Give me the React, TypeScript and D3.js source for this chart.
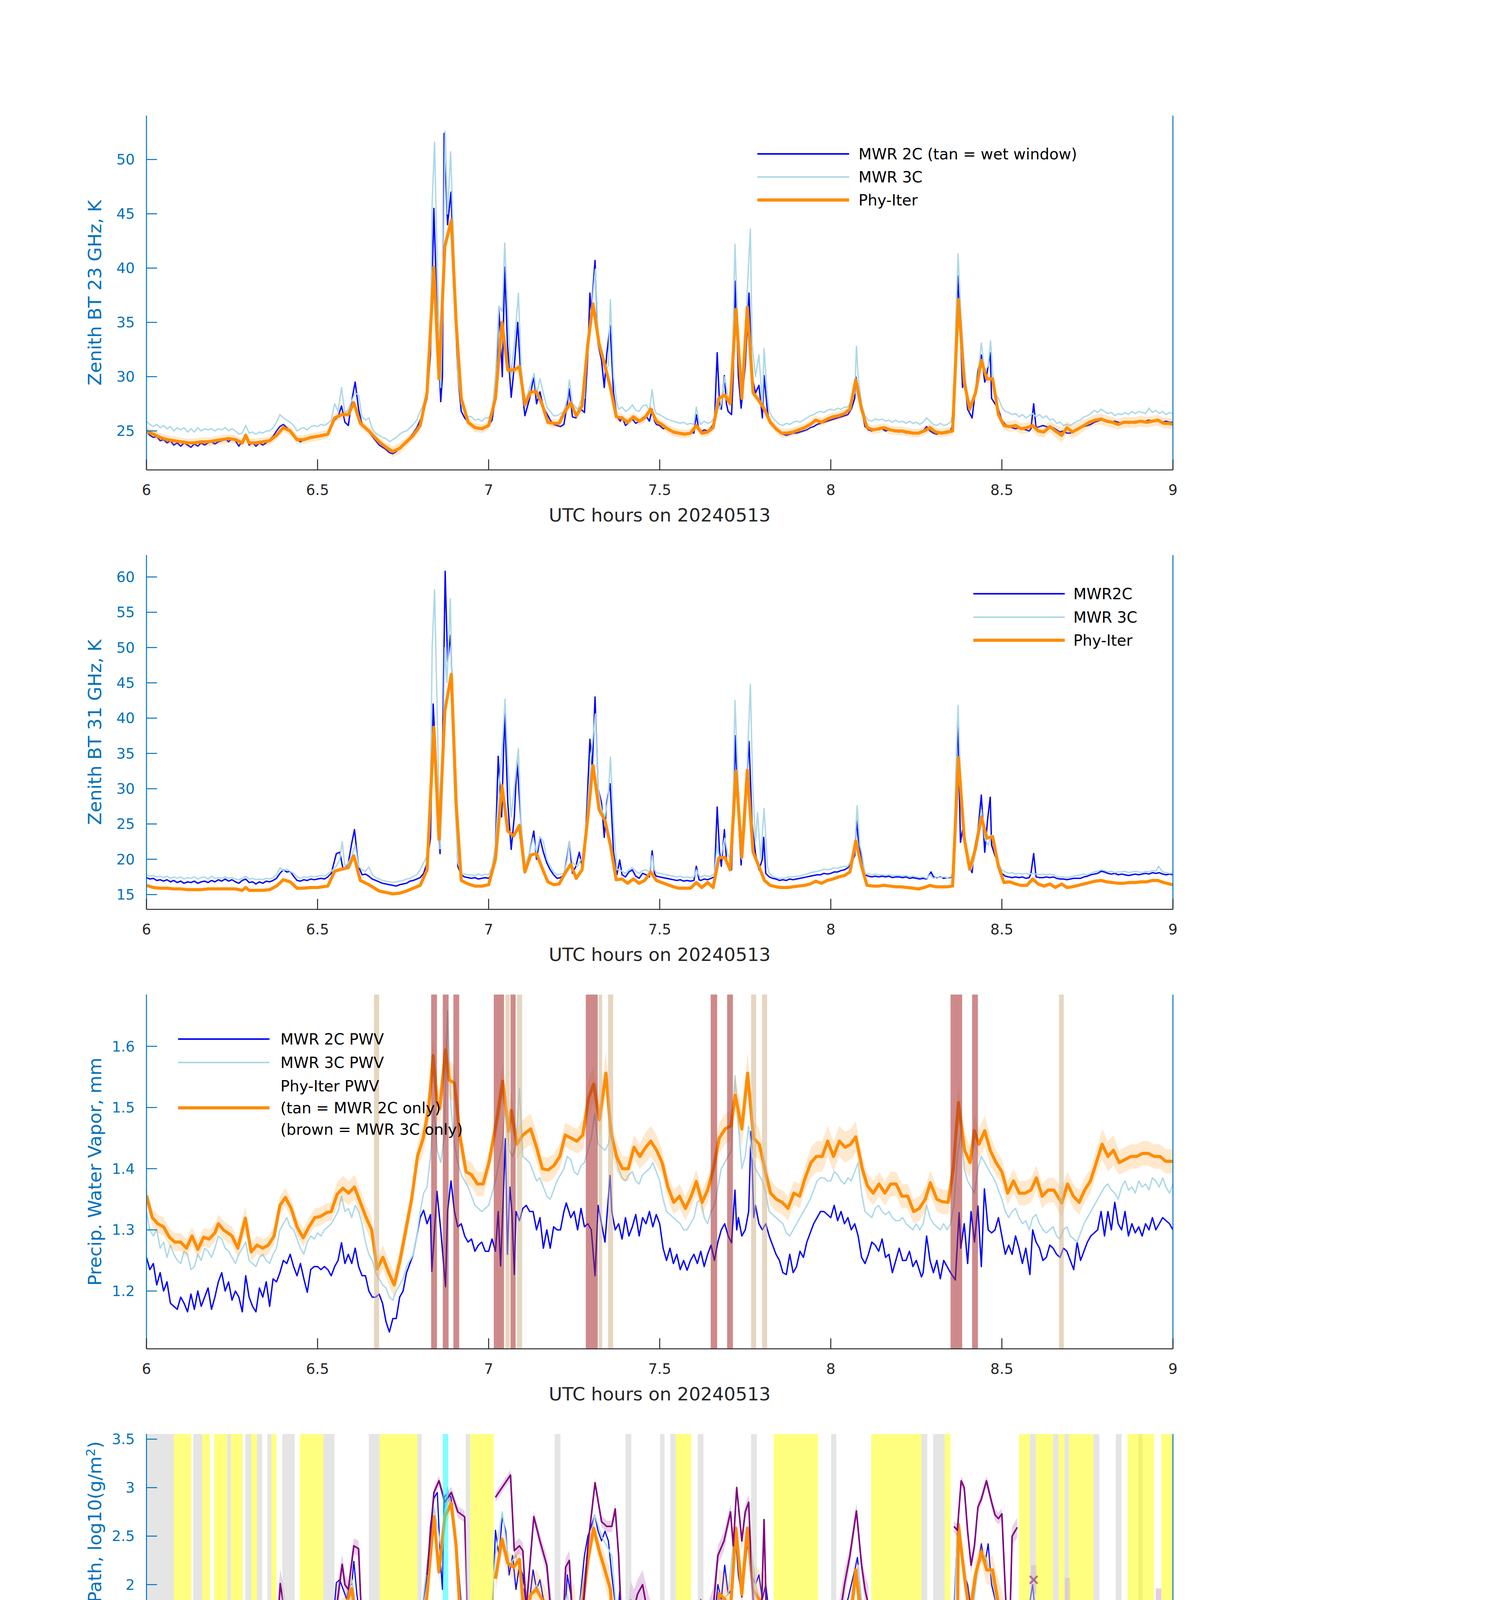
import React from "react"
import * as d3 from "d3"

type Pt = [number, number | null]
type BandPt = [number, number | null, number]

const W = 3825
const H = 6000
const LEFT = 375
const RIGHT = 3003
const PANEL_TOPS = [296, 1421, 2546, 3671, 4796]
const PANEL_H = 907
const TICK = 27

const BLUE = "#0000FF"
const LIGHTBLUE = "#ADD8E6"
const ORANGE = "#FF8C00"
const PURPLE = "#800080"
const AXIS_BLUE = "#0072BD"
const DARK = "#262626"
const FONT = "DejaVu Sans"

const xTicks = [6, 6.5, 7, 7.5, 8, 8.5, 9]

// ---------- panel 1: 23 GHz BT ----------
const bt23Ticks = [25, 30, 35, 40, 45, 50]
const bt23Mwr2c: Pt[] = [[6.00,25.0],[6.01,24.6],[6.02,24.4],[6.03,24.5],[6.04,24.1],[6.05,24.2],[6.06,23.9],[6.07,24.1],[6.08,23.7],[6.09,23.9],[6.10,23.6],[6.11,23.9],[6.12,23.7],[6.13,23.5],[6.14,23.8],[6.15,23.6],[6.16,23.9],[6.17,23.7],[6.18,23.9],[6.19,24.0],[6.20,23.8],[6.21,24.0],[6.22,24.1],[6.23,24.3],[6.24,24.0],[6.25,24.3],[6.26,24.1],[6.27,23.6],[6.28,24.1],[6.29,24.4],[6.30,23.7],[6.31,23.9],[6.32,23.6],[6.33,23.9],[6.34,23.7],[6.35,23.9],[6.36,24.2],[6.37,24.5],[6.38,25.0],[6.39,25.4],[6.40,25.6],[6.41,25.3],[6.42,25.0],[6.43,24.5],[6.44,24.2],[6.45,24.0],[6.46,24.2],[6.47,24.3],[6.48,24.4],[6.49,24.4],[6.50,24.5],[6.51,24.5],[6.52,24.6],[6.53,24.8],[6.54,25.3],[6.55,26.0],[6.56,26.3],[6.57,27.3],[6.58,25.8],[6.59,25.5],[6.60,27.8],[6.61,29.5],[6.62,27.0],[6.63,25.6],[6.64,25.2],[6.65,24.9],[6.66,24.5],[6.67,24.1],[6.68,23.7],[6.69,23.5],[6.70,23.3],[6.71,23.0],[6.72,22.9],[6.73,23.1],[6.74,23.5],[6.75,23.7],[6.76,24.0],[6.77,24.4],[6.78,24.8],[6.79,25.3],[6.80,26.0],[6.81,26.8],[6.82,28.0],[6.83,32.0],[6.84,45.5],[6.85,35.0],[6.86,27.7],[6.865,30.0],[6.87,52.4],[6.88,44.0],[6.89,47.0],[6.90,38.0],[6.91,30.0],[6.92,26.8],[6.93,26.2],[6.94,25.8],[6.95,25.5],[6.96,25.4],[6.97,25.2],[6.98,25.3],[6.99,25.4],[7.00,25.5],[7.01,26.0],[7.02,28.0],[7.03,36.3],[7.04,30.0],[7.047,40.1],[7.055,33.0],[7.066,28.1],[7.075,31.0],[7.085,35.0],[7.095,29.5],[7.106,26.4],[7.12,28.0],[7.132,30.0],[7.14,27.5],[7.15,28.6],[7.16,27.2],[7.17,26.6],[7.18,26.0],[7.19,25.6],[7.20,25.5],[7.21,25.4],[7.22,25.6],[7.23,27.5],[7.235,28.9],[7.245,26.3],[7.255,26.2],[7.27,27.0],[7.28,26.7],[7.29,32.0],[7.296,37.7],[7.30,36.0],[7.311,40.7],[7.32,33.0],[7.33,31.5],[7.338,29.0],[7.345,32.0],[7.355,34.7],[7.365,28.5],[7.375,26.3],[7.385,25.9],[7.39,26.3],[7.40,25.5],[7.41,25.8],[7.42,26.1],[7.43,25.7],[7.44,25.9],[7.45,26.2],[7.46,26.4],[7.47,25.9],[7.478,27.0],[7.485,25.9],[7.49,25.6],[7.50,25.5],[7.51,25.2],[7.52,25.3],[7.53,25.0],[7.54,24.9],[7.55,24.9],[7.56,24.7],[7.57,24.8],[7.58,24.7],[7.59,24.9],[7.60,24.8],[7.607,26.5],[7.615,25.0],[7.62,24.9],[7.63,25.1],[7.64,25.0],[7.65,25.3],[7.66,25.8],[7.668,32.2],[7.675,27.5],[7.68,27.0],[7.689,30.1],[7.695,27.5],[7.70,26.8],[7.71,26.5],[7.715,30.0],[7.721,38.8],[7.73,30.0],[7.738,27.1],[7.75,31.0],[7.761,37.7],[7.77,30.0],[7.78,28.5],[7.79,29.2],[7.80,26.2],[7.805,30.1],[7.815,26.8],[7.82,26.0],[7.83,25.6],[7.84,25.3],[7.85,25.0],[7.86,24.7],[7.87,24.6],[7.88,24.7],[7.89,24.8],[7.90,24.8],[7.91,24.9],[7.92,25.0],[7.93,25.1],[7.94,25.3],[7.95,25.4],[7.96,25.6],[7.97,25.7],[7.98,25.8],[7.99,25.9],[8.00,26.0],[8.01,26.1],[8.02,26.2],[8.03,26.3],[8.04,26.4],[8.05,26.5],[8.06,27.0],[8.07,28.0],[8.073,30.0],[8.08,29.0],[8.09,27.0],[8.10,25.4],[8.11,25.1],[8.12,25.0],[8.13,25.2],[8.14,25.1],[8.15,25.2],[8.16,25.0],[8.17,25.1],[8.18,25.0],[8.19,25.0],[8.20,24.9],[8.21,25.0],[8.22,24.8],[8.23,24.9],[8.24,24.8],[8.25,24.8],[8.26,24.9],[8.27,25.0],[8.28,25.4],[8.29,25.0],[8.30,24.8],[8.31,24.7],[8.32,24.9],[8.33,24.8],[8.34,24.8],[8.35,25.0],[8.36,26.0],[8.365,33.0],[8.371,39.3],[8.38,33.0],[8.385,29.0],[8.39,30.0],[8.40,27.0],[8.413,26.2],[8.42,28.0],[8.43,30.5],[8.44,32.0],[8.45,29.5],[8.455,30.0],[8.466,32.2],[8.47,28.0],[8.48,27.5],[8.49,27.0],[8.50,26.0],[8.51,25.6],[8.52,25.4],[8.53,25.3],[8.54,25.2],[8.55,25.3],[8.56,25.2],[8.57,25.1],[8.58,25.0],[8.585,25.2],[8.593,27.5],[8.60,25.3],[8.61,25.4],[8.62,25.5],[8.63,25.4],[8.64,25.3],[8.65,25.3],[8.66,25.1],[8.67,24.9],[8.68,25.0],[8.69,24.8],[8.70,24.8],[8.71,25.0],[8.72,25.2],[8.73,25.3],[8.74,25.4],[8.75,25.5],[8.76,25.6],[8.77,25.8],[8.78,25.9],[8.79,26.0],[8.80,26.0],[8.81,25.9],[8.82,25.8],[8.83,25.9],[8.84,25.8],[8.85,25.7],[8.86,25.8],[8.87,25.7],[8.88,25.8],[8.89,25.9],[8.90,25.8],[8.91,25.9],[8.92,25.9],[8.93,26.0],[8.94,25.9],[8.95,26.0],[8.96,26.0],[8.97,25.8],[8.98,25.9],[8.99,25.8],[9.00,25.8]]
const bt23Mwr3c: Pt[] = [[6.00,25.9],[6.01,25.6],[6.02,25.4],[6.03,25.6],[6.04,25.3],[6.05,25.5],[6.06,25.2],[6.07,25.4],[6.08,25.0],[6.09,25.3],[6.10,25.1],[6.11,25.3],[6.12,24.9],[6.13,25.2],[6.14,24.9],[6.15,25.3],[6.16,25.0],[6.17,25.2],[6.18,25.1],[6.19,25.2],[6.20,25.0],[6.21,25.2],[6.22,25.1],[6.23,25.3],[6.24,25.0],[6.25,25.2],[6.26,25.0],[6.27,24.7],[6.28,24.8],[6.29,25.5],[6.30,24.8],[6.31,24.9],[6.32,24.7],[6.33,24.9],[6.34,24.8],[6.35,25.0],[6.36,25.0],[6.37,25.3],[6.38,25.8],[6.39,26.5],[6.40,26.2],[6.41,26.0],[6.42,25.8],[6.43,25.5],[6.44,25.0],[6.45,25.2],[6.46,25.3],[6.47,25.1],[6.48,25.4],[6.49,25.5],[6.50,25.4],[6.51,25.6],[6.52,25.5],[6.53,25.7],[6.54,26.0],[6.55,27.5],[6.56,26.8],[6.57,29.0],[6.58,26.6],[6.59,27.0],[6.60,27.8],[6.61,28.5],[6.62,28.3],[6.63,26.3],[6.64,26.0],[6.65,26.2],[6.66,25.2],[6.67,24.8],[6.68,24.6],[6.69,24.4],[6.70,24.3],[6.71,24.0],[6.72,24.2],[6.73,24.4],[6.74,24.7],[6.75,24.9],[6.76,25.0],[6.77,25.3],[6.78,25.6],[6.79,26.0],[6.80,26.8],[6.81,27.5],[6.82,28.5],[6.83,33.0],[6.835,46.0],[6.842,51.6],[6.85,40.0],[6.86,29.0],[6.865,35.0],[6.873,52.6],[6.88,45.0],[6.889,50.7],[6.90,40.0],[6.91,30.0],[6.92,27.5],[6.93,26.8],[6.94,26.3],[6.95,26.3],[6.96,26.0],[6.97,26.1],[6.98,25.9],[6.99,26.2],[7.00,26.2],[7.01,26.8],[7.02,30.0],[7.03,36.5],[7.04,36.0],[7.047,42.3],[7.055,36.5],[7.065,30.0],[7.075,33.0],[7.087,37.7],[7.095,31.0],[7.105,27.5],[7.12,29.0],[7.133,30.3],[7.14,28.3],[7.15,29.8],[7.16,28.5],[7.17,27.2],[7.18,26.8],[7.19,26.4],[7.20,26.4],[7.21,26.6],[7.22,26.8],[7.23,28.0],[7.236,29.7],[7.245,27.5],[7.26,27.0],[7.27,27.8],[7.28,28.0],[7.29,33.0],[7.30,36.0],[7.312,39.9],[7.32,34.0],[7.33,32.0],[7.34,30.5],[7.35,31.0],[7.356,37.1],[7.365,30.0],[7.375,27.5],[7.38,27.0],[7.39,27.2],[7.40,26.8],[7.41,27.0],[7.42,27.4],[7.43,26.9],[7.44,26.8],[7.45,27.3],[7.46,27.4],[7.47,26.9],[7.478,28.8],[7.485,27.0],[7.49,26.6],[7.50,26.5],[7.51,26.3],[7.52,26.1],[7.53,26.0],[7.54,25.9],[7.55,25.8],[7.56,25.7],[7.57,25.8],[7.58,25.6],[7.59,25.7],[7.60,25.6],[7.607,27.2],[7.615,25.9],[7.62,25.6],[7.63,25.9],[7.64,25.7],[7.65,25.8],[7.66,26.3],[7.668,28.0],[7.675,27.0],[7.68,27.5],[7.69,30.0],[7.70,28.0],[7.71,28.5],[7.715,35.0],[7.72,42.2],[7.73,33.0],[7.74,28.0],[7.75,32.0],[7.756,38.0],[7.765,43.6],[7.77,33.0],[7.78,30.0],[7.79,32.0],[7.80,27.5],[7.805,32.6],[7.815,28.0],[7.82,26.8],[7.83,26.2],[7.84,25.9],[7.85,25.6],[7.86,25.5],[7.87,25.7],[7.88,25.6],[7.89,25.8],[7.90,25.9],[7.91,25.8],[7.92,26.0],[7.93,26.2],[7.94,26.4],[7.95,26.5],[7.96,26.7],[7.97,26.8],[7.98,26.7],[7.99,26.9],[8.00,27.0],[8.01,26.9],[8.02,27.1],[8.03,27.0],[8.04,27.2],[8.05,27.2],[8.06,27.8],[8.07,28.5],[8.075,32.8],[8.08,30.0],[8.09,27.5],[8.10,26.4],[8.11,26.0],[8.12,25.9],[8.13,26.1],[8.14,26.0],[8.15,26.1],[8.16,25.9],[8.17,26.0],[8.18,25.8],[8.19,26.0],[8.20,25.8],[8.21,25.9],[8.22,25.7],[8.23,25.9],[8.24,25.7],[8.25,25.8],[8.26,25.6],[8.27,25.8],[8.28,26.2],[8.29,25.9],[8.30,25.6],[8.31,25.5],[8.32,25.7],[8.33,25.5],[8.34,25.6],[8.35,25.8],[8.36,27.0],[8.365,35.0],[8.372,41.3],[8.38,36.0],[8.39,31.0],[8.40,28.0],[8.41,27.5],[8.42,28.5],[8.43,30.0],[8.44,33.1],[8.45,30.5],[8.46,31.0],[8.467,33.3],[8.475,29.5],[8.48,28.5],[8.49,28.0],[8.50,27.2],[8.51,26.8],[8.52,26.7],[8.53,26.5],[8.54,26.6],[8.55,26.3],[8.56,26.5],[8.57,26.2],[8.58,26.4],[8.59,26.6],[8.60,26.3],[8.61,26.5],[8.62,26.2],[8.63,26.4],[8.64,26.0],[8.65,26.1],[8.66,25.7],[8.67,25.8],[8.68,25.5],[8.69,25.6],[8.70,25.5],[8.71,25.7],[8.72,25.9],[8.73,26.0],[8.74,26.3],[8.75,26.4],[8.76,26.6],[8.77,26.9],[8.78,26.7],[8.79,27.0],[8.80,26.8],[8.81,26.6],[8.82,26.7],[8.83,26.4],[8.84,26.6],[8.85,26.5],[8.86,26.7],[8.87,26.5],[8.88,26.8],[8.89,26.6],[8.90,26.8],[8.91,26.7],[8.92,26.6],[8.93,27.1],[8.94,26.7],[8.95,26.9],[8.96,26.6],[8.97,26.8],[8.98,26.5],[8.99,26.7],[9.00,26.6]]
const bt23Phy: BandPt[] = [[6.00,25.0,0.4],[6.02,24.7,0.4],[6.04,24.4,0.4],[6.06,24.2,0.4],[6.08,24.1,0.4],[6.10,24.0,0.4],[6.12,23.9,0.4],[6.14,23.9,0.4],[6.16,24.0,0.4],[6.18,24.0,0.4],[6.20,24.1,0.4],[6.22,24.2,0.4],[6.24,24.3,0.4],[6.26,24.2,0.4],[6.28,23.9,0.4],[6.29,24.6,0.4],[6.30,23.9,0.4],[6.32,23.9,0.4],[6.34,24.0,0.4],[6.36,24.1,0.4],[6.38,24.6,0.4],[6.40,25.3,0.4],[6.42,25.0,0.4],[6.44,24.2,0.4],[6.46,24.2,0.4],[6.48,24.4,0.4],[6.50,24.5,0.4],[6.53,24.7,0.4],[6.55,26.2,0.4],[6.57,26.5,0.4],[6.59,26.5,0.4],[6.606,27.6,0.4],[6.625,25.7,0.4],[6.65,25.0,0.4],[6.68,24.0,0.4],[6.70,23.5,0.4],[6.72,23.1,0.5],[6.74,23.4,0.5],[6.76,24.0,0.4],[6.78,24.6,0.4],[6.80,25.5,0.4],[6.82,28.5,0.5],[6.84,40.1,0.6],[6.855,29.8,0.5],[6.872,42.0,0.6],[6.891,44.4,0.6],[6.905,35.0,0.5],[6.92,28.0,0.4],[6.94,25.8,0.4],[6.96,25.3,0.4],[6.98,25.2,0.4],[7.00,25.5,0.4],[7.02,28.0,0.4],[7.039,35.0,0.5],[7.056,30.6,0.4],[7.073,30.6,0.4],[7.09,30.9,0.4],[7.106,27.4,0.4],[7.123,28.6,0.4],[7.14,28.6,0.4],[7.156,27.5,0.4],[7.173,25.8,0.4],[7.19,25.7,0.4],[7.206,25.7,0.4],[7.223,26.8,0.4],[7.24,27.6,0.4],[7.256,26.4,0.4],[7.273,27.3,0.4],[7.29,33.0,0.5],[7.305,36.7,0.5],[7.323,33.0,0.4],[7.34,31.0,0.4],[7.356,29.0,0.4],[7.373,26.3,0.4],[7.39,26.2,0.4],[7.406,25.8,0.4],[7.423,26.3,0.4],[7.44,25.9,0.4],[7.456,26.2,0.4],[7.474,27.0,0.4],[7.49,25.9,0.4],[7.506,25.6,0.4],[7.523,25.2,0.4],[7.54,24.9,0.4],[7.556,24.8,0.4],[7.573,24.7,0.4],[7.59,24.8,0.4],[7.607,25.5,0.4],[7.623,24.8,0.4],[7.64,24.9,0.4],[7.656,25.3,0.4],[7.673,28.0,0.4],[7.69,28.3,0.4],[7.706,27.5,0.4],[7.723,36.2,0.5],[7.74,28.0,0.4],[7.756,36.4,0.5],[7.773,28.5,0.4],[7.79,27.8,0.4],[7.806,27.0,0.4],[7.823,25.8,0.4],[7.84,25.2,0.4],[7.856,24.8,0.4],[7.873,24.8,0.4],[7.89,24.9,0.4],[7.906,25.1,0.4],[7.923,25.3,0.4],[7.94,25.6,0.4],[7.956,26.0,0.4],[7.973,25.8,0.4],[7.99,26.1,0.4],[8.006,26.3,0.4],[8.023,26.4,0.4],[8.04,26.6,0.4],[8.056,27.0,0.4],[8.073,29.7,0.4],[8.09,27.0,0.4],[8.106,25.3,0.4],[8.123,25.1,0.4],[8.14,25.2,0.4],[8.156,25.3,0.4],[8.173,25.1,0.4],[8.19,25.0,0.4],[8.206,25.0,0.4],[8.223,24.9,0.4],[8.24,24.8,0.4],[8.256,24.8,0.4],[8.273,25.0,0.4],[8.29,25.3,0.4],[8.306,24.9,0.4],[8.323,24.8,0.4],[8.34,24.9,0.4],[8.356,25.0,0.4],[8.373,37.1,0.5],[8.39,29.5,0.4],[8.406,27.0,0.4],[8.423,28.5,0.4],[8.44,31.5,0.5],[8.456,29.8,0.4],[8.473,29.8,0.4],[8.49,26.5,0.4],[8.506,25.5,0.4],[8.523,25.4,0.5],[8.54,25.5,0.5],[8.556,25.2,0.5],[8.573,25.3,0.5],[8.59,25.5,0.5],[8.606,25.0,0.5],[8.623,24.9,0.5],[8.64,25.4,0.5],[8.656,25.0,0.6],[8.675,24.6,0.7],[8.69,25.3,0.6],[8.706,24.9,0.6],[8.723,25.2,0.6],[8.74,25.5,0.5],[8.756,25.8,0.5],[8.773,26.0,0.5],[8.79,26.1,0.5],[8.806,25.9,0.5],[8.823,25.8,0.5],[8.84,25.6,0.5],[8.856,25.8,0.5],[8.873,25.8,0.5],[8.89,25.8,0.5],[8.906,25.9,0.5],[8.923,25.8,0.5],[8.94,25.9,0.5],[8.956,26.0,0.5],[8.973,25.7,0.5],[8.99,25.7,0.5],[9.00,25.6,0.5]]

// ---------- panel 2: 31 GHz BT ----------
const bt31Ticks = [15, 20, 25, 30, 35, 40, 45, 50, 55, 60]
const bt31Mwr2c: Pt[] = [[6.00,17.4],[6.01,17.2],[6.02,17.3],[6.03,17.0],[6.04,17.1],[6.05,16.9],[6.06,17.1],[6.07,16.8],[6.08,17.0],[6.09,16.7],[6.10,16.9],[6.11,16.6],[6.12,16.8],[6.13,16.7],[6.14,16.9],[6.15,16.6],[6.16,16.8],[6.17,16.9],[6.18,16.7],[6.19,17.0],[6.20,16.8],[6.21,17.1],[6.22,16.9],[6.23,17.2],[6.24,16.9],[6.25,17.1],[6.26,16.8],[6.27,16.6],[6.28,17.0],[6.29,17.2],[6.30,16.7],[6.31,16.8],[6.32,16.5],[6.33,16.8],[6.34,16.6],[6.35,16.9],[6.36,16.8],[6.37,17.0],[6.38,17.3],[6.39,18.0],[6.40,18.5],[6.41,18.2],[6.42,18.3],[6.43,17.6],[6.44,17.0],[6.45,16.9],[6.46,17.1],[6.47,17.0],[6.48,17.2],[6.49,17.1],[6.50,17.2],[6.51,17.3],[6.52,17.2],[6.53,17.5],[6.54,18.0],[6.555,20.8],[6.565,21.0],[6.575,18.5],[6.59,19.5],[6.60,22.3],[6.608,24.2],[6.615,21.0],[6.62,19.0],[6.63,17.8],[6.64,17.9],[6.65,17.6],[6.66,17.2],[6.67,17.0],[6.68,16.8],[6.69,16.6],[6.70,16.5],[6.71,16.4],[6.72,16.3],[6.73,16.2],[6.74,16.4],[6.75,16.5],[6.76,16.6],[6.77,16.9],[6.78,17.0],[6.79,17.2],[6.80,17.4],[6.81,18.0],[6.82,19.5],[6.83,23.0],[6.838,42.0],[6.85,30.0],[6.858,20.8],[6.865,35.0],[6.873,60.8],[6.88,48.0],[6.889,51.8],[6.90,35.0],[6.91,19.0],[6.92,17.8],[6.93,17.5],[6.94,17.4],[6.95,17.3],[6.96,17.4],[6.97,17.2],[6.98,17.3],[6.99,17.4],[7.00,17.3],[7.01,18.0],[7.02,22.0],[7.028,34.6],[7.038,26.0],[7.047,40.8],[7.056,28.0],[7.066,21.4],[7.075,26.0],[7.083,33.9],[7.095,25.0],[7.106,18.3],[7.12,21.0],[7.132,24.0],[7.14,20.0],[7.15,23.0],[7.16,21.0],[7.17,19.5],[7.18,18.5],[7.19,17.8],[7.20,17.3],[7.21,17.4],[7.22,17.8],[7.23,20.5],[7.236,22.5],[7.245,18.0],[7.255,19.0],[7.265,21.0],[7.275,18.5],[7.285,25.0],[7.296,37.0],[7.303,33.0],[7.311,43.0],[7.32,30.0],[7.33,28.0],[7.338,23.1],[7.345,28.0],[7.355,30.7],[7.365,21.0],[7.375,17.8],[7.383,19.9],[7.39,17.8],[7.40,17.5],[7.41,18.2],[7.42,18.5],[7.43,17.6],[7.44,17.3],[7.45,18.0],[7.46,17.8],[7.47,17.5],[7.478,21.2],[7.485,18.0],[7.49,17.6],[7.50,17.5],[7.51,17.4],[7.52,17.3],[7.53,17.2],[7.54,17.1],[7.55,17.0],[7.56,17.1],[7.57,16.9],[7.58,17.0],[7.59,16.9],[7.60,17.0],[7.607,19.0],[7.615,17.1],[7.62,17.0],[7.63,17.2],[7.64,17.1],[7.65,17.3],[7.66,17.5],[7.668,27.4],[7.675,21.0],[7.68,19.0],[7.689,24.2],[7.695,20.0],[7.70,19.0],[7.71,18.5],[7.715,25.0],[7.721,37.5],[7.73,26.0],[7.738,19.2],[7.75,28.0],[7.761,36.7],[7.77,25.0],[7.78,20.8],[7.79,18.5],[7.80,20.0],[7.804,23.1],[7.81,18.0],[7.82,17.5],[7.83,17.3],[7.84,17.2],[7.85,17.0],[7.86,17.1],[7.87,17.0],[7.88,17.2],[7.89,17.1],[7.90,17.2],[7.91,17.3],[7.92,17.4],[7.93,17.5],[7.94,17.6],[7.95,17.7],[7.96,17.8],[7.97,17.8],[7.98,18.0],[7.99,17.9],[8.00,18.0],[8.01,18.2],[8.02,18.2],[8.03,18.4],[8.04,18.5],[8.05,18.8],[8.06,19.5],[8.07,20.5],[8.075,25.6],[8.08,23.0],[8.09,20.0],[8.10,17.8],[8.11,17.6],[8.12,17.5],[8.13,17.6],[8.14,17.5],[8.15,17.6],[8.16,17.5],[8.17,17.6],[8.18,17.4],[8.19,17.5],[8.20,17.5],[8.21,17.4],[8.22,17.5],[8.23,17.3],[8.24,17.4],[8.25,17.3],[8.26,17.2],[8.27,17.3],[8.28,17.2],[8.293,18.2],[8.30,17.5],[8.31,17.4],[8.32,17.5],[8.33,17.3],[8.34,17.4],[8.35,17.4],[8.36,18.0],[8.365,30.0],[8.371,40.0],[8.379,22.4],[8.388,25.0],[8.40,19.5],[8.413,18.1],[8.42,21.5],[8.43,24.0],[8.44,29.1],[8.45,21.0],[8.458,25.5],[8.466,28.8],[8.47,22.0],[8.48,20.5],[8.49,19.5],[8.50,18.0],[8.51,17.6],[8.52,17.5],[8.53,17.4],[8.54,17.5],[8.55,17.4],[8.56,17.5],[8.57,17.3],[8.58,17.4],[8.585,18.0],[8.593,20.8],[8.60,17.5],[8.61,17.4],[8.62,17.4],[8.63,17.5],[8.64,17.4],[8.65,17.5],[8.66,17.3],[8.67,17.2],[8.68,17.2],[8.69,17.1],[8.70,17.2],[8.71,17.3],[8.72,17.3],[8.73,17.3],[8.74,17.5],[8.75,17.6],[8.76,17.8],[8.77,17.9],[8.78,18.0],[8.79,18.3],[8.80,18.2],[8.81,18.0],[8.82,17.9],[8.83,18.0],[8.84,17.8],[8.85,17.9],[8.86,17.8],[8.87,17.7],[8.88,17.8],[8.89,17.9],[8.90,17.8],[8.91,17.9],[8.92,18.0],[8.93,17.9],[8.94,18.1],[8.95,18.0],[8.96,18.1],[8.97,17.9],[8.98,17.8],[8.99,17.9],[9.00,17.8]]
const bt31Mwr3c: Pt[] = [[6.00,17.8],[6.01,17.6],[6.02,17.7],[6.03,17.5],[6.04,17.6],[6.05,17.4],[6.06,17.6],[6.07,17.3],[6.08,17.5],[6.09,17.3],[6.10,17.5],[6.11,17.2],[6.12,17.4],[6.13,17.3],[6.14,17.5],[6.15,17.2],[6.16,17.4],[6.17,17.5],[6.18,17.2],[6.19,17.6],[6.20,17.3],[6.21,17.4],[6.22,17.3],[6.23,17.5],[6.24,17.3],[6.25,17.4],[6.26,17.2],[6.27,17.1],[6.28,17.3],[6.29,17.6],[6.30,17.2],[6.31,17.3],[6.32,17.1],[6.33,17.2],[6.34,17.1],[6.35,17.3],[6.36,17.2],[6.37,17.4],[6.38,17.8],[6.39,18.8],[6.40,18.4],[6.41,18.6],[6.42,18.3],[6.43,18.0],[6.44,17.5],[6.45,17.3],[6.46,17.5],[6.47,17.4],[6.48,17.6],[6.49,17.5],[6.50,17.6],[6.51,17.7],[6.52,17.6],[6.53,17.9],[6.54,18.3],[6.555,19.0],[6.565,20.0],[6.572,22.5],[6.58,19.0],[6.59,19.5],[6.60,20.5],[6.61,22.0],[6.62,19.0],[6.63,18.5],[6.64,18.3],[6.65,18.9],[6.66,17.8],[6.67,17.4],[6.68,17.2],[6.69,17.0],[6.70,16.9],[6.71,16.8],[6.72,16.7],[6.73,16.8],[6.74,16.9],[6.75,17.0],[6.76,17.2],[6.77,17.3],[6.78,17.6],[6.79,17.8],[6.80,18.5],[6.81,19.5],[6.82,20.5],[6.83,30.0],[6.835,50.0],[6.842,58.2],[6.85,40.0],[6.858,21.5],[6.865,30.0],[6.872,50.0],[6.878,45.0],[6.888,56.9],[6.895,40.0],[6.90,30.0],[6.91,19.5],[6.92,18.0],[6.93,17.9],[6.94,17.8],[6.95,17.8],[6.96,17.7],[6.97,17.9],[6.98,17.7],[6.99,17.9],[7.00,17.8],[7.01,19.0],[7.02,22.0],[7.03,30.0],[7.04,36.0],[7.048,42.7],[7.056,33.5],[7.066,26.0],[7.075,30.0],[7.087,35.7],[7.095,25.0],[7.106,19.0],[7.12,21.0],[7.13,23.0],[7.14,21.0],[7.15,23.2],[7.16,22.5],[7.17,20.0],[7.18,19.0],[7.19,18.2],[7.20,17.8],[7.21,17.9],[7.22,18.0],[7.23,20.0],[7.236,22.5],[7.245,19.5],[7.26,19.0],[7.27,20.0],[7.28,20.0],[7.29,28.0],[7.30,35.0],[7.312,40.6],[7.32,30.0],[7.33,27.0],[7.34,26.0],[7.35,29.0],[7.356,34.5],[7.365,25.0],[7.375,18.5],[7.38,18.6],[7.39,18.3],[7.40,18.0],[7.41,18.5],[7.42,18.8],[7.43,18.3],[7.44,18.0],[7.45,18.4],[7.46,18.5],[7.47,18.2],[7.478,20.5],[7.485,18.5],[7.49,18.1],[7.50,18.0],[7.51,17.9],[7.52,17.8],[7.53,17.7],[7.54,17.6],[7.55,17.5],[7.56,17.6],[7.57,17.4],[7.58,17.5],[7.59,17.4],[7.60,17.5],[7.607,18.5],[7.615,17.7],[7.62,17.5],[7.63,17.7],[7.64,17.6],[7.65,17.6],[7.66,18.0],[7.668,22.0],[7.675,20.0],[7.68,20.5],[7.69,23.0],[7.70,20.5],[7.71,20.0],[7.715,30.0],[7.72,42.5],[7.73,30.0],[7.74,20.0],[7.75,25.0],[7.757,35.0],[7.765,44.8],[7.772,30.0],[7.78,22.5],[7.786,26.6],[7.795,20.0],[7.805,27.2],[7.815,19.0],[7.82,18.0],[7.83,17.6],[7.84,17.4],[7.85,17.3],[7.86,17.3],[7.87,17.4],[7.88,17.5],[7.89,17.5],[7.90,17.6],[7.91,17.6],[7.92,17.8],[7.93,17.9],[7.94,18.1],[7.95,18.2],[7.96,18.3],[7.97,18.4],[7.98,18.6],[7.99,18.5],[8.00,18.6],[8.01,18.8],[8.02,18.7],[8.03,18.9],[8.04,19.0],[8.05,19.0],[8.06,20.0],[8.07,21.5],[8.077,27.6],[8.085,22.0],[8.09,21.0],[8.10,18.0],[8.11,17.9],[8.12,17.8],[8.13,17.9],[8.14,17.8],[8.15,17.8],[8.16,17.7],[8.17,17.8],[8.18,17.7],[8.19,17.7],[8.20,17.7],[8.21,17.6],[8.22,17.7],[8.23,17.5],[8.24,17.6],[8.25,17.5],[8.26,17.4],[8.27,17.5],[8.28,17.3],[8.29,17.8],[8.30,17.3],[8.31,17.5],[8.32,17.4],[8.33,17.5],[8.34,17.4],[8.35,17.5],[8.36,18.5],[8.365,32.0],[8.372,41.8],[8.38,30.0],[8.39,23.5],[8.40,20.0],[8.41,18.5],[8.42,20.0],[8.43,24.0],[8.44,27.0],[8.45,23.0],[8.46,22.0],[8.47,23.4],[8.48,21.0],[8.49,19.5],[8.50,18.5],[8.51,18.2],[8.52,18.0],[8.53,18.1],[8.54,17.9],[8.55,18.0],[8.56,17.9],[8.57,18.0],[8.58,17.9],[8.59,18.0],[8.60,17.9],[8.61,17.8],[8.62,17.9],[8.63,17.8],[8.64,17.9],[8.65,17.8],[8.66,17.6],[8.67,17.5],[8.68,17.5],[8.69,17.4],[8.70,17.5],[8.71,17.6],[8.72,17.7],[8.73,17.8],[8.74,17.9],[8.75,17.8],[8.76,18.0],[8.77,18.2],[8.78,18.3],[8.79,18.5],[8.80,18.4],[8.81,18.2],[8.82,18.3],[8.83,18.1],[8.84,18.2],[8.85,18.2],[8.86,18.3],[8.87,18.1],[8.88,18.2],[8.89,18.3],[8.90,18.2],[8.91,18.1],[8.92,18.3],[8.93,18.2],[8.94,18.4],[8.95,18.3],[8.958,19.0],[8.97,18.2],[8.98,18.1],[8.99,18.0],[9.00,18.0]]
const bt31Phy: BandPt[] = [[6.00,16.3,0.15],[6.02,16.0,0.15],[6.04,15.9,0.15],[6.06,15.9,0.15],[6.08,15.8,0.15],[6.10,15.8,0.15],[6.12,15.7,0.15],[6.14,15.7,0.15],[6.16,15.7,0.15],[6.18,15.8,0.15],[6.20,15.8,0.15],[6.22,15.8,0.15],[6.24,15.8,0.15],[6.26,15.8,0.15],[6.28,15.6,0.15],[6.29,16.0,0.15],[6.30,15.6,0.15],[6.32,15.6,0.15],[6.34,15.6,0.15],[6.36,15.7,0.15],[6.38,16.2,0.15],[6.40,17.1,0.15],[6.42,16.8,0.15],[6.44,15.9,0.15],[6.46,15.9,0.15],[6.48,16.0,0.15],[6.50,16.0,0.15],[6.53,16.2,0.15],[6.55,18.3,0.15],[6.57,18.6,0.15],[6.59,18.8,0.15],[6.606,20.5,0.2],[6.625,17.0,0.15],[6.65,16.4,0.15],[6.68,15.5,0.15],[6.70,15.3,0.15],[6.72,15.1,0.15],[6.74,15.2,0.15],[6.76,15.5,0.15],[6.78,15.9,0.15],[6.80,16.3,0.15],[6.82,18.5,0.2],[6.84,38.7,0.3],[6.855,22.8,0.2],[6.872,41.0,0.3],[6.891,46.2,0.3],[6.905,28.0,0.2],[6.92,17.0,0.15],[6.94,16.5,0.15],[6.96,16.2,0.15],[6.98,16.2,0.15],[7.00,16.4,0.15],[7.02,20.0,0.2],[7.039,30.4,0.2],[7.056,24.0,0.2],[7.073,23.3,0.2],[7.09,24.8,0.2],[7.106,18.2,0.15],[7.123,20.6,0.15],[7.14,20.8,0.15],[7.156,18.8,0.15],[7.173,16.8,0.15],[7.19,16.4,0.15],[7.206,16.5,0.15],[7.223,18.0,0.15],[7.24,19.3,0.15],[7.256,17.3,0.15],[7.273,18.5,0.15],[7.29,26.0,0.2],[7.305,33.3,0.2],[7.323,27.0,0.2],[7.34,25.5,0.2],[7.356,22.0,0.2],[7.373,17.1,0.15],[7.39,17.2,0.15],[7.406,16.6,0.15],[7.423,17.2,0.15],[7.44,16.6,0.15],[7.456,17.0,0.15],[7.474,18.2,0.15],[7.49,17.0,0.15],[7.506,16.7,0.15],[7.523,16.4,0.15],[7.54,16.1,0.15],[7.556,15.9,0.15],[7.573,15.9,0.15],[7.59,15.9,0.15],[7.607,16.7,0.15],[7.623,16.0,0.15],[7.64,16.7,0.15],[7.656,16.0,0.15],[7.673,20.2,0.15],[7.69,20.3,0.15],[7.706,18.5,0.15],[7.723,32.5,0.2],[7.74,20.3,0.15],[7.756,32.6,0.2],[7.773,21.0,0.15],[7.79,19.0,0.15],[7.806,17.0,0.15],[7.823,16.3,0.15],[7.84,16.1,0.15],[7.856,16.0,0.15],[7.873,16.0,0.15],[7.89,16.1,0.15],[7.906,16.2,0.15],[7.923,16.3,0.15],[7.94,16.5,0.15],[7.956,16.9,0.15],[7.973,16.6,0.15],[7.99,17.0,0.15],[8.006,17.2,0.15],[8.023,17.5,0.15],[8.04,17.7,0.15],[8.056,18.2,0.15],[8.073,22.6,0.15],[8.09,19.0,0.15],[8.106,16.3,0.15],[8.123,16.2,0.15],[8.14,16.2,0.15],[8.156,16.3,0.15],[8.173,16.2,0.15],[8.19,16.1,0.15],[8.206,16.1,0.15],[8.223,16.0,0.15],[8.24,15.9,0.15],[8.256,15.8,0.15],[8.273,16.0,0.15],[8.29,16.3,0.15],[8.306,16.1,0.15],[8.323,16.1,0.15],[8.34,16.1,0.15],[8.356,16.2,0.15],[8.373,34.4,0.2],[8.39,23.0,0.2],[8.406,18.6,0.15],[8.423,21.5,0.15],[8.44,26.0,0.2],[8.456,23.0,0.15],[8.473,23.2,0.15],[8.49,19.0,0.15],[8.506,16.7,0.15],[8.523,16.8,0.15],[8.54,16.5,0.15],[8.556,16.3,0.15],[8.573,16.3,0.15],[8.59,17.2,0.15],[8.606,16.5,0.15],[8.623,16.2,0.15],[8.64,16.5,0.15],[8.656,16.0,0.15],[8.675,16.5,0.15],[8.69,16.0,0.15],[8.706,16.1,0.15],[8.723,16.3,0.15],[8.74,16.5,0.15],[8.756,16.7,0.15],[8.773,16.9,0.15],[8.79,17.0,0.15],[8.806,16.8,0.15],[8.823,16.7,0.15],[8.84,16.6,0.15],[8.856,16.6,0.15],[8.873,16.7,0.15],[8.89,16.7,0.15],[8.906,16.8,0.15],[8.923,16.8,0.15],[8.94,17.0,0.15],[8.956,17.0,0.15],[8.973,16.7,0.15],[8.99,16.5,0.15],[9.00,16.4,0.15]]

// ---------- panel 3: PWV ----------
const pwvTicks = [1.2, 1.3, 1.4, 1.5, 1.6]
const pwvMwr2c: Pt[] = [[6.00,1.255],[6.01,1.235],[6.02,1.245],[6.03,1.210],[6.04,1.230],[6.05,1.200],[6.06,1.215],[6.07,1.180],[6.08,1.175],[6.09,1.170],[6.10,1.190],[6.11,1.180],[6.12,1.166],[6.13,1.195],[6.14,1.170],[6.15,1.200],[6.16,1.175],[6.17,1.190],[6.18,1.205],[6.19,1.170],[6.20,1.190],[6.21,1.215],[6.22,1.230],[6.23,1.200],[6.24,1.215],[6.25,1.185],[6.26,1.200],[6.27,1.190],[6.28,1.166],[6.29,1.225],[6.30,1.190],[6.31,1.175],[6.32,1.166],[6.33,1.205],[6.34,1.190],[6.35,1.215],[6.36,1.175],[6.37,1.220],[6.38,1.215],[6.39,1.230],[6.40,1.250],[6.41,1.245],[6.42,1.260],[6.43,1.240],[6.44,1.225],[6.45,1.245],[6.46,1.220],[6.47,1.198],[6.48,1.235],[6.49,1.240],[6.50,1.240],[6.51,1.235],[6.52,1.240],[6.53,1.235],[6.54,1.225],[6.55,1.240],[6.56,1.250],[6.57,1.279],[6.58,1.245],[6.59,1.260],[6.60,1.245],[6.61,1.270],[6.62,1.240],[6.63,1.225],[6.64,1.225],[6.65,1.200],[6.66,1.190],[6.67,1.190],[6.68,1.195],[6.69,1.180],[6.70,1.150],[6.71,1.133],[6.72,1.155],[6.73,1.155],[6.74,1.190],[6.75,1.200],[6.76,1.230],[6.77,1.245],[6.78,1.260],[6.79,1.290],[6.80,1.320],[6.81,1.332],[6.82,1.310],[6.83,1.325],[6.834,1.232],[6.842,1.300],[6.849,1.363],[6.86,1.300],[6.874,1.207],[6.88,1.330],[6.89,1.380],[6.90,1.330],[6.91,1.305],[6.92,1.310],[6.93,1.290],[6.94,1.280],[6.95,1.285],[6.96,1.265],[6.97,1.275],[6.98,1.280],[6.99,1.265],[7.00,1.265],[7.01,1.285],[7.02,1.265],[7.028,1.330],[7.035,1.241],[7.042,1.340],[7.049,1.449],[7.055,1.260],[7.062,1.370],[7.068,1.330],[7.075,1.227],[7.08,1.330],[7.09,1.315],[7.10,1.335],[7.11,1.340],[7.12,1.330],[7.13,1.330],[7.14,1.300],[7.15,1.320],[7.16,1.270],[7.17,1.300],[7.18,1.270],[7.19,1.305],[7.20,1.300],[7.21,1.300],[7.22,1.330],[7.227,1.344],[7.24,1.320],[7.25,1.330],[7.26,1.300],[7.27,1.335],[7.28,1.305],[7.29,1.310],[7.30,1.300],[7.311,1.225],[7.32,1.340],[7.33,1.310],[7.34,1.280],[7.355,1.389],[7.36,1.330],[7.37,1.300],[7.38,1.310],[7.39,1.285],[7.40,1.320],[7.41,1.290],[7.42,1.305],[7.43,1.325],[7.44,1.290],[7.45,1.320],[7.46,1.310],[7.47,1.330],[7.48,1.305],[7.49,1.325],[7.50,1.310],[7.51,1.270],[7.52,1.250],[7.53,1.270],[7.54,1.245],[7.55,1.260],[7.56,1.235],[7.57,1.250],[7.58,1.234],[7.59,1.250],[7.60,1.260],[7.61,1.245],[7.62,1.265],[7.63,1.240],[7.64,1.260],[7.65,1.275],[7.66,1.250],[7.67,1.280],[7.68,1.300],[7.69,1.310],[7.70,1.290],[7.71,1.279],[7.72,1.365],[7.725,1.300],[7.73,1.320],[7.74,1.290],[7.75,1.300],[7.76,1.330],[7.767,1.461],[7.775,1.320],[7.78,1.340],[7.79,1.310],[7.80,1.300],[7.81,1.310],[7.82,1.290],[7.83,1.275],[7.84,1.260],[7.85,1.250],[7.86,1.230],[7.87,1.227],[7.88,1.260],[7.89,1.230],[7.90,1.240],[7.91,1.265],[7.92,1.255],[7.93,1.280],[7.94,1.295],[7.95,1.310],[7.96,1.320],[7.97,1.330],[7.98,1.330],[7.99,1.325],[8.00,1.320],[8.01,1.340],[8.02,1.315],[8.03,1.330],[8.04,1.310],[8.05,1.320],[8.06,1.300],[8.07,1.310],[8.08,1.290],[8.09,1.255],[8.10,1.245],[8.11,1.260],[8.12,1.280],[8.13,1.275],[8.14,1.265],[8.15,1.285],[8.16,1.255],[8.17,1.260],[8.18,1.230],[8.19,1.250],[8.20,1.270],[8.21,1.250],[8.22,1.250],[8.23,1.265],[8.24,1.240],[8.25,1.250],[8.265,1.223],[8.27,1.230],[8.28,1.290],[8.29,1.250],[8.30,1.230],[8.31,1.250],[8.32,1.220],[8.33,1.250],[8.34,1.240],[8.35,1.230],[8.364,1.218],[8.375,1.328],[8.38,1.270],[8.39,1.310],[8.40,1.245],[8.41,1.330],[8.42,1.280],[8.43,1.339],[8.44,1.240],[8.449,1.367],[8.46,1.300],[8.47,1.295],[8.48,1.300],[8.49,1.320],[8.50,1.290],[8.51,1.260],[8.52,1.275],[8.53,1.260],[8.54,1.290],[8.55,1.270],[8.56,1.245],[8.57,1.270],[8.582,1.227],[8.59,1.300],[8.60,1.280],[8.61,1.270],[8.62,1.250],[8.63,1.255],[8.64,1.275],[8.65,1.270],[8.66,1.260],[8.67,1.255],[8.68,1.270],[8.69,1.265],[8.70,1.250],[8.71,1.235],[8.72,1.280],[8.73,1.250],[8.74,1.265],[8.75,1.280],[8.76,1.290],[8.77,1.295],[8.78,1.300],[8.79,1.330],[8.80,1.290],[8.81,1.330],[8.82,1.300],[8.83,1.345],[8.84,1.310],[8.85,1.300],[8.86,1.330],[8.87,1.290],[8.88,1.310],[8.89,1.295],[8.90,1.305],[8.91,1.290],[8.92,1.310],[8.93,1.300],[8.94,1.320],[8.95,1.300],[8.96,1.310],[8.97,1.320],[8.98,1.315],[8.99,1.310],[9.00,1.300]]
const pwvMwr3c: Pt[] = [[6.00,1.330],[6.01,1.300],[6.02,1.290],[6.03,1.300],[6.04,1.270],[6.05,1.280],[6.06,1.255],[6.07,1.275],[6.08,1.260],[6.09,1.250],[6.10,1.245],[6.11,1.265],[6.12,1.260],[6.13,1.235],[6.14,1.240],[6.15,1.260],[6.16,1.250],[6.17,1.270],[6.18,1.265],[6.19,1.255],[6.20,1.270],[6.21,1.290],[6.22,1.285],[6.23,1.270],[6.24,1.265],[6.25,1.255],[6.26,1.245],[6.27,1.260],[6.28,1.270],[6.29,1.280],[6.30,1.250],[6.31,1.245],[6.32,1.240],[6.33,1.255],[6.34,1.260],[6.35,1.250],[6.36,1.245],[6.37,1.260],[6.38,1.270],[6.39,1.300],[6.40,1.310],[6.41,1.320],[6.42,1.305],[6.43,1.300],[6.44,1.285],[6.45,1.270],[6.46,1.260],[6.47,1.280],[6.48,1.290],[6.49,1.285],[6.50,1.295],[6.51,1.290],[6.52,1.300],[6.53,1.305],[6.54,1.310],[6.55,1.320],[6.56,1.330],[6.57,1.355],[6.58,1.330],[6.59,1.335],[6.60,1.320],[6.61,1.340],[6.62,1.330],[6.63,1.310],[6.64,1.280],[6.65,1.260],[6.66,1.250],[6.67,1.230],[6.68,1.220],[6.69,1.210],[6.70,1.205],[6.71,1.190],[6.72,1.185],[6.73,1.200],[6.74,1.210],[6.75,1.220],[6.76,1.240],[6.77,1.250],[6.78,1.260],[6.79,1.290],[6.80,1.330],[6.81,1.360],[6.82,1.370],[6.83,1.420],[6.84,1.500],[6.85,1.430],[6.86,1.410],[6.87,1.450],[6.88,1.658],[6.89,1.500],[6.90,1.440],[6.91,1.410],[6.92,1.390],[6.93,1.380],[6.94,1.370],[6.95,1.355],[6.96,1.340],[6.97,1.335],[6.98,1.330],[6.99,1.335],[7.00,1.340],[7.01,1.360],[7.02,1.380],[7.03,1.410],[7.04,1.440],[7.05,1.517],[7.06,1.430],[7.07,1.420],[7.08,1.440],[7.09,1.531],[7.10,1.420],[7.11,1.415],[7.12,1.410],[7.13,1.395],[7.14,1.380],[7.15,1.385],[7.16,1.370],[7.17,1.355],[7.18,1.350],[7.19,1.365],[7.20,1.380],[7.21,1.390],[7.22,1.400],[7.23,1.420],[7.24,1.415],[7.25,1.395],[7.26,1.390],[7.27,1.405],[7.28,1.410],[7.29,1.430],[7.30,1.450],[7.31,1.490],[7.32,1.440],[7.33,1.435],[7.34,1.430],[7.35,1.440],[7.36,1.470],[7.37,1.420],[7.38,1.400],[7.39,1.385],[7.40,1.380],[7.41,1.390],[7.42,1.395],[7.43,1.380],[7.44,1.375],[7.45,1.390],[7.46,1.395],[7.47,1.400],[7.48,1.410],[7.49,1.395],[7.50,1.380],[7.51,1.350],[7.52,1.330],[7.53,1.325],[7.54,1.320],[7.55,1.315],[7.56,1.310],[7.57,1.300],[7.58,1.300],[7.59,1.310],[7.60,1.320],[7.61,1.345],[7.62,1.350],[7.63,1.320],[7.64,1.310],[7.65,1.330],[7.66,1.340],[7.67,1.370],[7.68,1.400],[7.69,1.410],[7.70,1.420],[7.71,1.430],[7.72,1.552],[7.73,1.470],[7.74,1.400],[7.75,1.420],[7.76,1.470],[7.77,1.420],[7.78,1.400],[7.79,1.390],[7.80,1.380],[7.81,1.360],[7.82,1.330],[7.83,1.325],[7.84,1.320],[7.85,1.315],[7.86,1.310],[7.87,1.295],[7.88,1.290],[7.89,1.300],[7.90,1.310],[7.91,1.320],[7.92,1.330],[7.93,1.340],[7.94,1.350],[7.95,1.365],[7.96,1.380],[7.97,1.385],[7.98,1.385],[7.99,1.380],[8.00,1.380],[8.01,1.395],[8.02,1.390],[8.03,1.380],[8.04,1.375],[8.05,1.385],[8.06,1.380],[8.07,1.395],[8.08,1.410],[8.09,1.360],[8.10,1.330],[8.11,1.325],[8.12,1.320],[8.13,1.335],[8.14,1.340],[8.15,1.330],[8.16,1.325],[8.17,1.330],[8.18,1.320],[8.19,1.315],[8.20,1.315],[8.21,1.320],[8.22,1.310],[8.23,1.305],[8.24,1.300],[8.25,1.310],[8.26,1.300],[8.27,1.310],[8.28,1.340],[8.29,1.320],[8.30,1.310],[8.31,1.305],[8.32,1.300],[8.33,1.310],[8.34,1.300],[8.35,1.310],[8.36,1.340],[8.37,1.420],[8.38,1.460],[8.39,1.400],[8.40,1.380],[8.41,1.370],[8.42,1.360],[8.43,1.400],[8.44,1.420],[8.45,1.410],[8.46,1.400],[8.47,1.390],[8.48,1.380],[8.49,1.365],[8.50,1.350],[8.51,1.330],[8.52,1.320],[8.53,1.330],[8.54,1.335],[8.55,1.320],[8.56,1.310],[8.57,1.315],[8.58,1.300],[8.59,1.320],[8.60,1.325],[8.61,1.310],[8.62,1.300],[8.63,1.295],[8.64,1.300],[8.65,1.305],[8.66,1.290],[8.67,1.285],[8.68,1.300],[8.69,1.305],[8.70,1.290],[8.71,1.285],[8.72,1.280],[8.73,1.295],[8.74,1.310],[8.75,1.320],[8.76,1.330],[8.77,1.340],[8.78,1.350],[8.79,1.360],[8.80,1.370],[8.81,1.375],[8.82,1.365],[8.83,1.360],[8.84,1.350],[8.85,1.370],[8.86,1.380],[8.87,1.365],[8.88,1.370],[8.89,1.360],[8.90,1.380],[8.91,1.370],[8.92,1.375],[8.93,1.365],[8.94,1.385],[8.95,1.380],[8.96,1.370],[8.97,1.385],[8.98,1.370],[8.99,1.360],[9.00,1.375]]
const pwvPhy: BandPt[] = [[6.000,1.356,0.015],[6.017,1.320,0.015],[6.033,1.310,0.015],[6.050,1.305,0.015],[6.067,1.288,0.015],[6.083,1.280,0.015],[6.100,1.280,0.015],[6.117,1.270,0.015],[6.133,1.290,0.015],[6.150,1.268,0.015],[6.167,1.288,0.015],[6.183,1.285,0.015],[6.200,1.295,0.015],[6.210,1.310,0.015],[6.225,1.300,0.015],[6.250,1.290,0.015],[6.267,1.270,0.015],[6.289,1.319,0.02],[6.306,1.264,0.015],[6.323,1.275,0.015],[6.340,1.270,0.015],[6.356,1.275,0.015],[6.373,1.290,0.015],[6.390,1.340,0.015],[6.406,1.353,0.015],[6.423,1.335,0.015],[6.440,1.305,0.015],[6.458,1.287,0.015],[6.475,1.305,0.015],[6.492,1.320,0.015],[6.509,1.322,0.015],[6.526,1.328,0.015],[6.540,1.330,0.015],[6.557,1.358,0.02],[6.574,1.368,0.02],[6.591,1.360,0.02],[6.608,1.370,0.02],[6.625,1.345,0.02],[6.642,1.320,0.02],[6.658,1.300,0.02],[6.674,1.236,0.02],[6.691,1.255,0.02],[6.708,1.230,0.02],[6.724,1.210,0.02],[6.741,1.250,0.02],[6.758,1.300,0.02],[6.775,1.350,0.02],[6.792,1.420,0.02],[6.809,1.450,0.025],[6.825,1.500,0.03],[6.838,1.585,0.03],[6.849,1.510,0.03],[6.857,1.498,0.03],[6.874,1.594,0.035],[6.885,1.545,0.03],[6.900,1.540,0.03],[6.917,1.450,0.025],[6.934,1.395,0.02],[6.950,1.390,0.02],[6.967,1.375,0.02],[6.984,1.375,0.02],[7.001,1.410,0.02],[7.024,1.480,0.025],[7.041,1.543,0.03],[7.058,1.461,0.03],[7.066,1.495,0.03],[7.083,1.440,0.025],[7.100,1.455,0.025],[7.123,1.465,0.025],[7.140,1.435,0.025],[7.157,1.400,0.02],[7.174,1.398,0.02],[7.191,1.405,0.02],[7.208,1.420,0.02],[7.224,1.455,0.02],[7.241,1.450,0.02],[7.258,1.445,0.02],[7.275,1.455,0.025],[7.292,1.515,0.03],[7.307,1.538,0.03],[7.324,1.480,0.03],[7.343,1.556,0.035],[7.357,1.460,0.03],[7.374,1.420,0.025],[7.391,1.400,0.02],[7.408,1.400,0.02],[7.425,1.435,0.02],[7.442,1.420,0.02],[7.459,1.435,0.025],[7.474,1.445,0.025],[7.491,1.430,0.025],[7.507,1.410,0.02],[7.524,1.370,0.02],[7.541,1.345,0.02],[7.558,1.355,0.02],[7.575,1.335,0.02],[7.592,1.355,0.02],[7.607,1.379,0.02],[7.624,1.345,0.02],[7.640,1.365,0.02],[7.657,1.400,0.02],[7.674,1.450,0.025],[7.691,1.465,0.025],[7.708,1.470,0.025],[7.721,1.520,0.03],[7.740,1.465,0.03],[7.757,1.556,0.035],[7.774,1.450,0.03],[7.791,1.440,0.025],[7.807,1.400,0.02],[7.824,1.360,0.02],[7.841,1.350,0.02],[7.858,1.345,0.02],[7.875,1.335,0.02],[7.892,1.360,0.02],[7.909,1.355,0.02],[7.925,1.385,0.02],[7.942,1.410,0.025],[7.958,1.420,0.025],[7.975,1.420,0.025],[7.991,1.445,0.025],[8.008,1.420,0.025],[8.025,1.445,0.025],[8.042,1.435,0.025],[8.058,1.440,0.025],[8.073,1.452,0.025],[8.092,1.400,0.02],[8.107,1.372,0.02],[8.124,1.360,0.02],[8.141,1.375,0.02],[8.158,1.360,0.02],[8.175,1.375,0.02],[8.191,1.375,0.02],[8.208,1.355,0.02],[8.225,1.355,0.02],[8.242,1.330,0.02],[8.259,1.335,0.02],[8.276,1.350,0.02],[8.291,1.377,0.02],[8.310,1.350,0.02],[8.326,1.346,0.02],[8.343,1.345,0.02],[8.358,1.400,0.025],[8.373,1.508,0.03],[8.391,1.430,0.03],[8.407,1.410,0.025],[8.420,1.462,0.025],[8.433,1.440,0.025],[8.450,1.462,0.025],[8.466,1.430,0.025],[8.483,1.410,0.02],[8.500,1.395,0.02],[8.517,1.360,0.02],[8.534,1.380,0.02],[8.551,1.360,0.02],[8.568,1.360,0.02],[8.585,1.365,0.02],[8.601,1.385,0.02],[8.618,1.355,0.02],[8.635,1.365,0.02],[8.652,1.365,0.02],[8.675,1.344,0.025],[8.692,1.375,0.02],[8.709,1.355,0.02],[8.726,1.345,0.02],[8.742,1.365,0.02],[8.759,1.380,0.02],[8.776,1.410,0.02],[8.793,1.440,0.025],[8.810,1.420,0.025],[8.826,1.430,0.025],[8.843,1.410,0.02],[8.860,1.415,0.02],[8.877,1.420,0.02],[8.894,1.420,0.02],[8.911,1.425,0.02],[8.928,1.425,0.02],[8.945,1.420,0.02],[8.962,1.420,0.02],[8.979,1.412,0.02],[9.000,1.412,0.02]]
const pwvTanSpans: [number, number][] = [[6.665,6.680],[7.049,7.062],[7.083,7.098],[7.322,7.332],[7.349,7.364],[7.767,7.782],[7.799,7.814],[8.667,8.681]]
const pwvBrownSpans: [number, number][] = [[6.832,6.849],[6.866,6.883],[6.897,6.914],[7.015,7.045],[7.064,7.079],[7.284,7.319],[7.649,7.668],[7.697,7.714],[8.350,8.384],[8.413,8.430]]

// ---------- panel 4: LWP ----------
const lwpTicks = [0, 0.5, 1, 1.5, 2, 2.5, 3, 3.5]
const lwpMwr2c: Pt[] = [[6.00,1.64],[6.01,1.62],[6.02,1.66],[6.03,1.60],[6.04,1.63],[6.05,1.58],[6.06,1.62],[6.07,1.57],[6.08,1.58],[6.09,1.54],[6.10,1.55],[6.11,1.60],[6.12,1.56],[6.13,1.52],[6.14,1.57],[6.15,1.53],[6.16,1.56],[6.17,1.51],[6.18,1.55],[6.19,1.62],[6.20,1.57],[6.21,1.52],[6.22,1.55],[6.23,1.50],[6.24,1.58],[6.25,1.55],[6.26,1.60],[6.27,1.52],[6.28,1.55],[6.29,1.64],[6.30,1.60],[6.31,1.57],[6.32,1.52],[6.33,1.55],[6.34,1.50],[6.35,1.59],[6.36,1.56],[6.37,1.60],[6.38,1.58],[6.39,1.66],[6.40,1.62],[6.41,1.79],[6.42,1.72],[6.43,1.65],[6.44,1.52],[6.45,1.55],[6.46,1.60],[6.47,1.56],[6.48,1.54],[6.49,1.60],[6.50,1.57],[6.51,1.60],[6.52,1.58],[6.53,1.75],[6.545,1.60],[6.555,2.02],[6.565,2.05],[6.575,1.95],[6.585,1.85],[6.595,2.00],[6.600,2.00],[6.606,2.24],[6.615,1.90],[6.625,1.65],[6.635,1.72],[6.645,1.68],[6.655,1.55],[6.67,1.52],[6.68,1.50],[6.69,1.53],[6.70,1.48],[6.71,1.50],[6.72,1.47],[6.73,1.52],[6.74,1.50],[6.75,1.54],[6.76,1.55],[6.77,1.58],[6.78,1.57],[6.79,1.62],[6.80,1.70],[6.81,1.85],[6.82,2.10],[6.83,2.60],[6.84,2.89],[6.85,2.95],[6.86,2.20],[6.865,1.95],[6.87,2.90],[6.88,2.95],[6.89,2.90],[6.90,2.55],[6.91,2.25],[6.92,1.80],[6.93,1.70],[6.94,1.72],[6.95,1.68],[6.96,1.62],[6.97,1.65],[6.98,1.60],[6.99,1.63],[7.00,1.68],[7.01,1.65],[7.02,2.56],[7.03,2.30],[7.04,2.70],[7.05,2.55],[7.06,2.10],[7.07,2.30],[7.08,1.95],[7.09,2.20],[7.10,2.10],[7.11,1.75],[7.12,1.85],[7.13,2.15],[7.14,1.95],[7.15,2.05],[7.16,1.85],[7.17,1.80],[7.18,1.75],[7.19,1.70],[7.20,1.55],[7.21,1.40],[7.22,1.50],[7.23,2.10],[7.24,1.90],[7.252,1.29],[7.26,1.60],[7.27,1.95],[7.28,2.30],[7.29,2.50],[7.30,2.60],[7.31,2.72],[7.32,2.55],[7.33,2.45],[7.34,2.55],[7.35,2.45],[7.36,2.10],[7.37,1.80],[7.375,1.55],[7.383,1.93],[7.39,1.65],[7.40,1.60],[7.41,1.75],[7.42,1.65],[7.43,1.70],[7.44,1.55],[7.45,1.75],[7.46,1.70],[7.47,1.65],[7.48,1.80],[7.49,1.60],[7.50,1.62],[7.51,1.65],[7.52,1.72],[7.53,1.62],[7.54,1.60],[7.55,1.58],[7.56,1.62],[7.57,1.55],[7.58,1.60],[7.59,1.57],[7.60,1.55],[7.61,1.65],[7.62,1.85],[7.63,1.60],[7.64,1.72],[7.65,1.55],[7.66,1.65],[7.67,2.00],[7.68,1.85],[7.69,2.20],[7.70,1.90],[7.71,1.95],[7.72,2.58],[7.73,2.10],[7.74,1.87],[7.75,2.20],[7.76,2.55],[7.77,2.10],[7.78,2.00],[7.79,2.10],[7.80,1.85],[7.81,2.00],[7.82,1.70],[7.83,1.62],[7.84,1.58],[7.85,1.60],[7.86,1.57],[7.87,1.62],[7.88,1.58],[7.89,1.60],[7.90,1.58],[7.91,1.62],[7.92,1.57],[7.93,1.60],[7.94,1.58],[7.95,1.56],[7.96,1.60],[7.97,1.62],[7.98,1.70],[7.99,1.75],[8.00,1.65],[8.01,1.60],[8.02,1.70],[8.03,1.62],[8.04,1.75],[8.05,1.85],[8.06,2.00],[8.07,2.15],[8.078,2.28],[8.09,1.80],[8.10,1.62],[8.11,1.60],[8.12,1.62],[8.13,1.60],[8.14,1.63],[8.15,1.60],[8.16,1.62],[8.17,1.59],[8.18,1.62],[8.19,1.60],[8.20,1.61],[8.21,1.58],[8.22,1.63],[8.23,1.60],[8.24,1.62],[8.25,1.58],[8.26,1.57],[8.27,1.60],[8.28,1.62],[8.29,1.75],[8.30,1.60],[8.31,1.70],[8.32,1.55],[8.33,1.62],[8.34,1.65],[8.35,1.62],[8.36,1.72],[8.37,2.55],[8.38,2.45],[8.39,2.10],[8.40,2.00],[8.41,1.75],[8.42,1.95],[8.43,2.20],[8.44,2.42],[8.45,2.20],[8.46,2.42],[8.47,2.00],[8.48,1.85],[8.49,1.75],[8.50,1.60],[8.51,1.58],[8.52,1.60],[8.53,1.57],[8.54,1.62],[8.55,1.60],[8.56,1.65],[8.57,1.70],[8.58,1.78],[8.59,2.00],[8.60,1.62],[8.61,1.60],[8.62,1.62],[8.63,1.64],[8.64,1.60],[8.65,1.63],[8.66,1.62],[8.67,1.58],[8.68,1.60],[8.69,1.62],[8.70,1.58],[8.71,1.62],[8.72,1.58],[8.73,1.60],[8.74,1.62],[8.75,1.60],[8.76,1.63],[8.77,1.65],[8.78,1.68],[8.79,1.65],[8.80,1.70],[8.81,1.66],[8.82,1.65],[8.83,1.68],[8.84,1.65],[8.85,1.62],[8.86,1.60],[8.87,1.63],[8.88,1.62],[8.89,1.65],[8.90,1.62],[8.91,1.64],[8.92,1.65],[8.93,1.68],[8.94,1.66],[8.95,1.72],[8.96,1.70],[8.97,1.62],[8.98,1.60],[8.99,1.62],[9.00,1.65]]
const lwpMwr3c: Pt[] = [[6.00,1.45],[6.02,1.42],[6.04,1.46],[6.06,1.40],[6.08,1.43],[6.10,1.39],[6.12,1.41],[6.14,1.37],[6.16,1.40],[6.18,1.38],[6.20,1.41],[6.22,1.37],[6.24,1.40],[6.26,1.38],[6.28,1.36],[6.30,1.39],[6.32,1.37],[6.34,1.40],[6.36,1.38],[6.38,1.41],[6.40,1.46],[6.42,1.42],[6.44,1.38],[6.46,1.40],[6.48,1.38],[6.50,1.40],[6.52,1.38],[6.54,1.45],[6.555,1.65],[6.565,1.80],[6.58,1.75],[6.60,2.05],[6.62,1.60],[6.64,1.45],[6.66,1.38],[6.68,1.30],[6.70,1.25],[6.72,1.30],[6.74,1.33],[6.76,1.38],[6.78,1.45],[6.80,1.60],[6.82,2.20],[6.84,2.80],[6.86,2.40],[6.88,3.00],[6.90,2.50],[6.92,1.70],[6.94,1.48],[6.96,1.42],[6.98,1.45],[7.00,1.42],[7.02,2.30],[7.04,2.75],[7.06,2.20],[7.08,2.30],[7.10,2.00],[7.12,1.85],[7.14,2.00],[7.16,1.80],[7.18,1.65],[7.20,1.50],[7.23,1.90],[7.25,1.40],[7.28,2.10],[7.31,2.72],[7.33,2.50],[7.36,2.30],[7.38,1.45],[7.40,1.48],[7.42,1.44],[7.45,1.50],[7.48,1.60],[7.50,1.45],[7.52,1.42],[7.55,1.40],[7.58,1.38],[7.60,1.40],[7.62,1.60],[7.64,1.42],[7.67,1.80],[7.70,1.90],[7.72,2.60],[7.74,1.90],[7.76,2.60],[7.78,2.00],[7.80,1.70],[7.82,1.55],[7.84,1.42],[7.86,1.38],[7.88,1.40],[7.90,1.36],[7.92,1.39],[7.94,1.37],[7.96,1.40],[7.98,1.45],[8.00,1.50],[8.02,1.45],[8.04,1.55],[8.06,1.65],[8.08,2.20],[8.10,1.45],[8.12,1.42],[8.14,1.44],[8.16,1.40],[8.18,1.42],[8.20,1.39],[8.22,1.41],[8.24,1.38],[8.26,1.37],[8.28,1.40],[8.30,1.38],[8.32,1.40],[8.34,1.42],[8.36,1.50],[8.37,2.60],[8.39,2.20],[8.41,1.55],[8.43,2.20],[8.45,2.30],[8.47,2.10],[8.49,1.70],[8.50,1.50],[8.52,1.46],[8.54,1.44],[8.56,1.46],[8.58,1.45],[8.60,1.47],[8.62,1.44],[8.64,1.43],[8.66,1.45],[8.68,1.42],[8.70,1.40],[8.72,1.38],[8.74,1.42],[8.76,1.45],[8.78,1.48],[8.80,1.46],[8.82,1.42],[8.84,1.44],[8.86,1.41],[8.88,1.43],[8.90,1.42],[8.92,1.45],[8.94,1.43],[8.96,1.46],[8.98,1.44],[9.00,1.43]]
const lwpPhy: BandPt[] = [[6.000,0.50,0.6],[6.010,-0.6,1.6],[6.012,null,0],[6.380,-0.6,1.6],[6.386,1.03,0.25],[6.405,1.19,0.25],[6.420,1.10,0.3],[6.430,-0.6,1.6],[6.432,null,0],[6.530,-0.6,1.6],[6.540,1.66,0.15],[6.560,1.70,0.12],[6.580,1.76,0.12],[6.600,1.96,0.12],[6.620,1.40,0.2],[6.635,1.20,0.3],[6.650,0.89,0.4],[6.660,-0.6,1.6],[6.662,null,0],[6.805,1.37,0.3],[6.820,1.90,0.2],[6.830,2.30,0.15],[6.840,2.70,0.1],[6.855,2.13,0.1],[6.872,2.70,0.1],[6.891,2.84,0.1],[6.905,2.40,0.15],[6.925,1.20,0.4],[6.940,0.64,0.6],[6.942,null,0],[7.020,2.06,0.15],[7.039,2.47,0.12],[7.056,2.22,0.12],[7.073,2.18,0.12],[7.090,2.26,0.12],[7.106,1.56,0.25],[7.123,1.90,0.2],[7.140,1.95,0.2],[7.156,1.85,0.2],[7.173,1.60,0.3],[7.190,1.05,0.6],[7.206,0.50,1.0],[7.215,-0.6,1.6],[7.228,-0.6,1.6],[7.236,1.50,0.4],[7.250,1.72,0.3],[7.258,1.16,0.5],[7.273,1.75,0.3],[7.290,2.25,0.15],[7.307,2.58,0.1],[7.323,2.35,0.12],[7.340,2.15,0.15],[7.356,1.95,0.2],[7.368,1.30,0.5],[7.378,0.89,0.8],[7.386,1.19,0.6],[7.396,-0.6,1.9],[7.410,-0.6,1.9],[7.415,0.95,0.7],[7.420,-0.6,1.9],[7.470,-0.6,1.9],[7.474,1.55,0.3],[7.485,-0.6,1.9],[7.600,-0.6,1.9],[7.607,0.64,0.9],[7.615,-0.6,1.9],[7.635,-0.6,1.9],[7.640,0.98,0.7],[7.647,-0.6,1.9],[7.665,-0.6,1.9],[7.673,1.91,0.25],[7.690,1.85,0.25],[7.706,1.70,0.3],[7.723,2.58,0.1],[7.740,1.90,0.25],[7.756,2.58,0.1],[7.773,1.95,0.25],[7.790,1.85,0.3],[7.806,1.80,0.3],[7.820,1.05,0.6],[7.830,-0.6,1.6],[7.832,null,0],[7.990,-0.6,1.6],[8.000,0.95,0.5],[8.008,-0.6,1.6],[8.015,-0.6,1.6],[8.023,0.98,0.5],[8.040,1.20,0.4],[8.056,1.60,0.3],[8.073,2.15,0.15],[8.090,1.60,0.3],[8.100,1.00,0.6],[8.107,0.02,1.0],[8.109,null,0],[8.365,-0.6,1.6],[8.373,2.62,0.12],[8.390,2.10,0.15],[8.406,1.69,0.2],[8.423,2.10,0.15],[8.440,2.34,0.12],[8.456,2.15,0.15],[8.473,2.15,0.15],[8.490,1.80,0.25],[8.506,1.50,0.35],[8.520,1.00,0.6],[8.530,0.70,0.8],[8.532,null,0],[8.770,-0.6,1.6],[8.780,0.55,0.6],[8.800,0.40,0.6],[8.820,0.38,0.6],[8.830,-0.6,1.6],[8.832,null,0]]
const lwpAdiabatic: BandPt[] = [[6.000,1.28,0.5],[6.010,1.06,0.55],[6.080,1.05,0.55],[6.082,null,0],[6.290,1.32,0.3],[6.306,1.13,0.35],[6.308,null,0],[6.380,1.40,0.3],[6.391,2.01,0.15],[6.400,1.80,0.2],[6.410,1.40,0.3],[6.440,1.40,0.3],[6.442,null,0],[6.530,1.07,0.5],[6.540,1.10,0.4],[6.555,1.75,0.2],[6.572,2.21,0.1],[6.580,2.00,0.1],[6.590,1.95,0.1],[6.606,2.40,0.08],[6.620,2.37,0.08],[6.630,1.50,0.3],[6.640,1.15,0.4],[6.655,1.08,0.4],[6.670,1.08,0.4],[6.672,null,0],[6.820,2.10,0.1],[6.840,2.95,0.06],[6.855,3.07,0.05],[6.872,2.85,0.06],[6.891,2.95,0.06],[6.910,2.75,0.06],[6.930,2.70,0.06],[6.942,1.13,0.4],[6.944,null,0],[7.020,2.90,0.05],[7.039,3.00,0.05],[7.064,3.13,0.05],[7.075,2.35,0.08],[7.090,2.40,0.08],[7.100,2.35,0.08],[7.110,1.75,0.15],[7.132,2.70,0.06],[7.150,2.45,0.08],[7.170,2.20,0.1],[7.190,1.40,0.3],[7.200,1.16,0.35],[7.212,1.10,0.35],[7.225,2.18,0.1],[7.236,2.25,0.1],[7.250,1.30,0.3],[7.260,1.20,0.3],[7.273,1.60,0.2],[7.290,2.40,0.08],[7.311,3.05,0.05],[7.330,2.65,0.06],[7.345,2.60,0.06],[7.360,2.60,0.06],[7.370,2.78,0.06],[7.380,2.30,0.08],[7.390,1.45,0.3],[7.400,1.20,0.35],[7.415,1.84,0.2],[7.425,1.75,0.2],[7.435,1.90,0.15],[7.450,2.00,0.15],[7.460,1.80,0.2],[7.475,1.50,0.3],[7.490,1.13,0.35],[7.530,1.14,0.35],[7.532,null,0],[7.640,1.50,0.3],[7.655,1.70,0.25],[7.670,2.30,0.1],[7.688,2.45,0.1],[7.707,2.75,0.08],[7.715,2.40,0.1],[7.725,3.00,0.06],[7.740,2.45,0.1],[7.750,2.75,0.08],[7.760,2.85,0.08],[7.770,2.00,0.15],[7.782,1.40,0.3],[7.795,1.40,0.3],[7.805,2.67,0.08],[7.815,1.20,0.35],[7.817,null,0],[7.980,1.06,0.4],[7.990,1.25,0.3],[8.010,1.15,0.35],[8.023,1.60,0.2],[8.040,2.00,0.15],[8.056,2.30,0.1],[8.075,2.76,0.08],[8.090,2.20,0.1],[8.100,1.95,0.15],[8.110,1.79,0.2],[8.112,null,0],[8.280,1.25,0.3],[8.293,1.35,0.3],[8.310,1.15,0.35],[8.312,null,0],[8.360,2.60,0.06],[8.370,2.56,0.06],[8.381,3.07,0.05],[8.390,3.00,0.05],[8.400,2.55,0.06],[8.410,2.20,0.08],[8.420,2.40,0.08],[8.430,2.80,0.06],[8.440,2.88,0.06],[8.455,3.07,0.05],[8.470,2.85,0.06],[8.480,2.72,0.06],[8.490,2.68,0.06],[8.500,2.73,0.06],[8.510,1.95,0.15],[8.520,1.16,0.35],[8.530,2.50,0.1],[8.545,2.59,0.1],[8.547,null,0],[8.760,1.15,0.35],[8.775,1.19,0.3],[8.800,1.40,0.25],[8.815,1.25,0.3],[8.830,1.20,0.3],[8.840,1.13,0.35],[8.842,null,0]]
const adiMarkers: [number, number, number][] = [[6.190,1.23,0.6],[6.241,1.14,0.5],[6.342,1.06,0.5],[6.775,1.14,0.3],[8.593,2.05,0.15],[8.658,1.15,0.5],[8.692,1.77,0.3],[8.907,1.15,0.5],[8.958,1.66,0.3]]
const phyMarkers: [number, number][] = [[6.241,0.0],[8.593,1.27],[8.958,0.69]]
const lwpGraySpans: [number, number][] = [[6.000,6.080],[6.137,6.163],[6.236,6.247],[6.289,6.306],[6.323,6.338],[6.353,6.365],[6.397,6.433],[6.517,6.549],[6.650,6.682],[6.792,6.804],[6.933,6.946],[7.193,7.210],[7.400,7.417],[7.501,7.514],[7.531,7.547],[7.611,7.628],[7.767,7.784],[8.001,8.016],[8.265,8.282],[8.299,8.333],[8.582,8.599],[8.650,8.666],[8.683,8.696],[8.768,8.785],[8.833,8.850],[8.899,8.911]]
const lwpYellowSpans: [number, number][] = [[6.080,6.131],[6.163,6.186],[6.198,6.236],[6.247,6.281],[6.306,6.323],[6.365,6.380],[6.448,6.517],[6.682,6.792],[6.946,7.015],[7.547,7.592],[7.833,7.963],[8.118,8.265],[8.333,8.350],[8.550,8.582],[8.599,8.650],[8.666,8.683],[8.696,8.768],[8.867,8.945],[8.966,9.000]]
const lwpCyanSpans: [number, number][] = [[6.866,6.882]]

// ---------- panel 5: DQ flag ----------
const dqTicks = [0, 2, 4, 6, 8, 10]
const dqFlag0 = [6.192,6.291,6.391,6.441,6.557,6.574,6.591,6.608,6.625,6.642,6.809,6.825,6.842,6.857,6.891,6.908,6.925,7.024,7.041,7.058,7.075,7.091,7.108,7.125,7.142,7.157,7.174,7.191,7.224,7.241,7.258,7.275,7.292,7.307,7.324,7.357,7.374,7.391,7.425,7.442,7.459,7.474,7.491,7.524,7.607,7.640,7.657,7.674,7.691,7.708,7.725,7.742,7.759,7.790,7.807,7.991,8.025,8.042,8.058,8.075,8.092,8.107,8.291,8.358,8.375,8.392,8.409,8.426,8.443,8.459,8.474,8.491,8.508,8.525,8.542,8.593,8.791,8.808,8.825,8.859,8.958]
const dqFlag3 = [6.158,8.324,8.692]
const dqFlag4 = [6.004,6.013,6.021,6.032,6.044,6.057,6.072,6.141,6.241,6.306,6.342,6.374,6.407,6.424,6.526,6.540,6.657,6.673,6.775,6.942,7.208,7.408,7.507,7.541,7.592,7.624,7.773,7.824,7.974,8.008,8.276,8.310,8.658,8.774,8.842,8.907]
const dqFlag5 = [6.091,6.106,6.122,6.175,6.207,6.224,6.258,6.274,6.325,6.359,6.458,6.475,6.492,6.509,6.692,6.707,6.724,6.741,6.758,6.792,6.958,6.975,6.990,7.007,7.558,7.575,7.841,7.858,7.875,7.892,7.909,7.925,7.942,7.957,8.124,8.141,8.158,8.175,8.191,8.208,8.225,8.242,8.259,8.341,8.559,8.576,8.609,8.624,8.641,8.675,8.709,8.726,8.742,8.759,8.875,8.892,8.924,8.941,8.975,8.992,9.000]
const dqFlag6 = [7.343]
const dqFlag10 = [6.874]
const dqFlag11 = [6.874]

// ---------- helpers ----------
const x = d3.scaleLinear().domain([6, 9]).range([LEFT, RIGHT])
const yScale = (i: number, lo: number, hi: number) =>
  d3.scaleLinear().domain([lo, hi]).range([PANEL_TOPS[i] + PANEL_H, PANEL_TOPS[i]])

const linePath = (data: Pt[], y: d3.ScaleLinear<number, number>) =>
  d3.line<Pt>().defined(d => d[1] !== null).x(d => x(d[0])).y(d => y(d[1] as number))(data) || ""

const bandPath = (data: BandPt[], y: d3.ScaleLinear<number, number>) =>
  d3.area<BandPt>()
    .defined(d => d[1] !== null)
    .x(d => x(d[0]))
    .y0(d => y((d[1] as number) - d[2]))
    .y1(d => y((d[1] as number) + d[2]))(data) || ""

const asLine = (data: BandPt[]): Pt[] => data.map(d => [d[0], d[1]])

const Frame = ({ i, y, ticks, label }: { i: number; y: d3.ScaleLinear<number, number>; ticks: number[]; label: React.ReactNode }) => {
  const top = PANEL_TOPS[i]
  const bottom = top + PANEL_H
  return (
    <g>
      <line x1={LEFT} x2={LEFT} y1={top} y2={bottom} stroke={AXIS_BLUE} strokeWidth={2.5} />
      <line x1={RIGHT} x2={RIGHT} y1={top} y2={bottom} stroke={AXIS_BLUE} strokeWidth={2.5} />
      {ticks.map(t => (
        <g key={t}>
          <line x1={LEFT} x2={LEFT + TICK} y1={y(t)} y2={y(t)} stroke={AXIS_BLUE} strokeWidth={2.5} />
          <text x={LEFT - 30} y={y(t) + 13} textAnchor="end" fill={AXIS_BLUE} fontSize={37}>{t}</text>
        </g>
      ))}
      <line x1={LEFT} x2={RIGHT} y1={bottom} y2={bottom} stroke={DARK} strokeWidth={2.5} />
      {xTicks.map(t => (
        <g key={t}>
          <line x1={x(t)} x2={x(t)} y1={bottom} y2={bottom - TICK} stroke={DARK} strokeWidth={2.5} />
          <text x={x(t)} y={bottom + 64} textAnchor="middle" fill={DARK} fontSize={37}>{t}</text>
        </g>
      ))}
      <text x={(LEFT + RIGHT) / 2} y={bottom + 132} textAnchor="middle" fill={DARK} fontSize={47}>UTC hours on 20240513</text>
      <text transform={`translate(259,${top + PANEL_H / 2}) rotate(-90)`} textAnchor="middle" fill={AXIS_BLUE} fontSize={47}>{label}</text>
    </g>
  )
}

type LegendItem = { text: string; color?: string; width?: number }
const Legend = ({ x0, x1, tx, rows, items }: { x0: number; x1: number; tx: number; rows: number[]; items: LegendItem[] }) => (
  <g>
    {items.map((it, k) => (
      <g key={k}>
        {it.color && <line x1={x0} x2={x1} y1={rows[k]} y2={rows[k]} stroke={it.color} strokeWidth={it.width} />}
        <text x={tx} y={rows[k] + 14} fontSize={39} fill="#000">{it.text}</text>
      </g>
    ))}
  </g>
)

const Clip = ({ i }: { i: number }) => (
  <clipPath id={`clip${i}`}>
    <rect x={LEFT} y={PANEL_TOPS[i]} width={RIGHT - LEFT} height={PANEL_H} />
  </clipPath>
)

const spanRects = (spans: [number, number][], i: number, fill: string, opacity: number) =>
  spans.map((s, k) => (
    <rect key={k} x={x(s[0])} y={PANEL_TOPS[i]} width={x(s[1]) - x(s[0])} height={PANEL_H} fill={fill} opacity={opacity} />
  ))

const cross = (cx: number, cy: number) => `M${cx - 10},${cy - 10}L${cx + 10},${cy + 10}M${cx - 10},${cy + 10}L${cx + 10},${cy - 10}`

export default function App() {
  const y1 = yScale(0, 21.41, 54.04)
  const y2 = yScale(1, 12.9, 63.1)
  const y3 = yScale(2, 1.1055, 1.6847)
  const y4 = yScale(3, -0.1, 3.553)
  const y5 = yScale(4, -0.5, 11.5)

  const dqPoints: [number, number][] = [
    ...dqFlag0.map(t => [t, 0] as [number, number]),
    ...dqFlag3.map(t => [t, 3] as [number, number]),
    ...dqFlag4.map(t => [t, 4] as [number, number]),
    ...dqFlag5.map(t => [t, 5] as [number, number]),
    ...dqFlag6.map(t => [t, 6] as [number, number]),
    ...dqFlag10.map(t => [t, 10] as [number, number]),
    ...dqFlag11.map(t => [t, 11] as [number, number]),
  ]

  return (
    <svg width={W} height={H} viewBox={`0 0 ${W} ${H}`} style={{ position: "absolute", left: 0, top: 0, display: "block" }} fontFamily={FONT}>
      <rect width={W} height={H} fill="#fff" />
      <defs>{[0, 1, 2, 3, 4].map(i => <Clip key={i} i={i} />)}</defs>

      {/* panel 1 */}
      <g clipPath="url(#clip0)" strokeLinejoin="round" fill="none">
        <path d={linePath(bt23Mwr2c, y1)} stroke={BLUE} strokeWidth={3.5} />
        <path d={linePath(bt23Mwr3c, y1)} stroke={LIGHTBLUE} strokeWidth={3.5} />
        <path d={bandPath(bt23Phy, y1)} fill={ORANGE} fillOpacity={0.2} stroke="none" />
        <path d={linePath(asLine(bt23Phy), y1)} stroke={ORANGE} strokeWidth={8} />
      </g>
      <Frame i={0} y={y1} ticks={bt23Ticks} label="Zenith BT 23 GHz, K" />
      <Legend x0={1939} x1={2174} tx={2198} rows={[394, 453, 512]} items={[
        { text: "MWR 2C (tan = wet window)", color: BLUE, width: 4 },
        { text: "MWR 3C", color: LIGHTBLUE, width: 4 },
        { text: "Phy-Iter", color: ORANGE, width: 8 },
      ]} />

      {/* panel 2 */}
      <g clipPath="url(#clip1)" strokeLinejoin="round" fill="none">
        <path d={linePath(bt31Mwr2c, y2)} stroke={BLUE} strokeWidth={3.5} />
        <path d={linePath(bt31Mwr3c, y2)} stroke={LIGHTBLUE} strokeWidth={3.5} />
        <path d={bandPath(bt31Phy, y2)} fill={ORANGE} fillOpacity={0.2} stroke="none" />
        <path d={linePath(asLine(bt31Phy), y2)} stroke={ORANGE} strokeWidth={8} />
      </g>
      <Frame i={1} y={y2} ticks={bt31Ticks} label="Zenith BT 31 GHz, K" />
      <Legend x0={2492} x1={2726} tx={2748} rows={[1520, 1580, 1639]} items={[
        { text: "MWR2C", color: BLUE, width: 4 },
        { text: "MWR 3C", color: LIGHTBLUE, width: 4 },
        { text: "Phy-Iter", color: ORANGE, width: 8 },
      ]} />

      {/* panel 3 */}
      <g clipPath="url(#clip2)" strokeLinejoin="round" fill="none">
        <path d={linePath(pwvMwr2c, y3)} stroke={BLUE} strokeWidth={3.5} />
        <path d={linePath(pwvMwr3c, y3)} stroke={LIGHTBLUE} strokeWidth={3.5} />
        <path d={bandPath(pwvPhy, y3)} fill={ORANGE} fillOpacity={0.2} stroke="none" />
        <path d={linePath(asLine(pwvPhy), y3)} stroke={ORANGE} strokeWidth={8} />
        {spanRects(pwvTanSpans, 2, "#D2B48C", 0.55)}
        {spanRects(pwvBrownSpans, 2, "#A52A2A", 0.55)}
      </g>
      <Frame i={2} y={y3} ticks={pwvTicks} label="Precip. Water Vapor, mm" />
      <Legend x0={456} x1={690} tx={718} rows={[2660, 2720, 2780, 2836, 2891]} items={[
        { text: "MWR 2C PWV", color: BLUE, width: 4 },
        { text: "MWR 3C PWV", color: LIGHTBLUE, width: 4 },
        { text: "Phy-Iter PWV" },
        { text: "(tan = MWR 2C only)", color: ORANGE, width: 8 },
        { text: "(brown = MWR 3C only)" },
      ]} />

      {/* panel 4 */}
      <g clipPath="url(#clip3)" strokeLinejoin="round" fill="none">
        <path d={linePath(lwpMwr2c, y4)} stroke={BLUE} strokeWidth={3} />
        <path d={linePath(lwpMwr3c, y4)} stroke={LIGHTBLUE} strokeWidth={3.5} />
        <path d={bandPath(lwpPhy, y4)} fill={ORANGE} fillOpacity={0.2} stroke="none" />
        <path d={linePath(asLine(lwpPhy), y4)} stroke={ORANGE} strokeWidth={8} />
        <path d={bandPath(lwpAdiabatic, y4)} fill={PURPLE} fillOpacity={0.18} stroke="none" />
        <path d={linePath(asLine(lwpAdiabatic), y4)} stroke={PURPLE} strokeWidth={4} />
        {adiMarkers.map((m, k) => (
          <rect key={`e${k}`} x={x(m[0]) - 7} y={y4(m[1] + m[2])} width={14} height={y4(m[1] - m[2]) - y4(m[1] + m[2])} fill={PURPLE} fillOpacity={0.2} />
        ))}
        {adiMarkers.map((m, k) => (
          <path key={`a${k}`} d={cross(x(m[0]), y4(m[1]))} stroke={PURPLE} strokeWidth={5} />
        ))}
        {phyMarkers.map((m, k) => (
          <path key={`p${k}`} d={cross(x(m[0]), y4(m[1]))} stroke={ORANGE} strokeWidth={5} />
        ))}
        {spanRects(lwpGraySpans, 3, "#CCCCCC", 0.5)}
        {spanRects(lwpYellowSpans, 3, "#FFFF00", 0.5)}
        {spanRects(lwpCyanSpans, 3, "#00FFFF", 0.5)}
      </g>
      <Frame i={3} y={y4} ticks={lwpTicks} label={<>log10 Liquid Water Path, log10(g/m<tspan dy={-16} fontSize={32}>2</tspan><tspan dy={16}>)</tspan></>} />
      <Legend x0={2327} x1={2561} tx={2585} rows={[4347, 4405, 4464, 4521]} items={[
        { text: "MWR 2C LWP", color: BLUE, width: 4 },
        { text: "MWR 3C LWP", color: LIGHTBLUE, width: 4 },
        { text: "Phy-Iter LWP", color: ORANGE, width: 8 },
        { text: "Adiabatic LWP", color: PURPLE, width: 4 },
      ]} />

      {/* panel 5 */}
      <g clipPath="url(#clip4)">
        {dqPoints.map((p, k) => (
          <circle key={k} cx={x(p[0])} cy={y5(p[1])} r={5} fill={ORANGE} />
        ))}
      </g>
      <Frame i={4} y={y5} ticks={dqTicks} label="MWR Phy Iter DQ Flag" />
    </svg>
  )
}
